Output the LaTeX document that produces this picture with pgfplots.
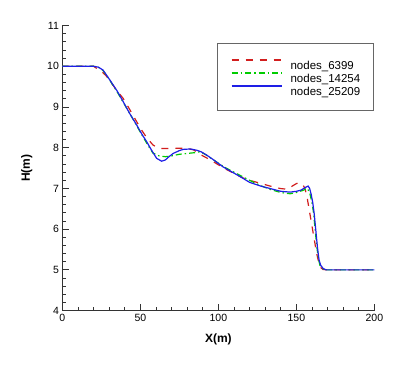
\documentclass[border=0pt]{standalone}
\usepackage{pgfplots}
\pgfplotsset{compat=1.18}
\usepackage{fontspec}
\setmainfont{Liberation Sans}
\definecolor{cred}{RGB}{210,30,30}
\definecolor{cgreen}{RGB}{0,205,0}
\definecolor{cblue}{RGB}{30,30,230}
\begin{document}
\begin{tikzpicture}
\useasboundingbox (-62.4pt,-57.4pt) rectangle (337.6pt,310.6pt);
\begin{axis}[
  at={(0,0)}, anchor=south west,
  scale only axis, width=312pt, height=285pt,
  xmin=0, xmax=200, ymin=4, ymax=11,
  axis x line*=bottom, axis y line*=left,
  axis line style={line width=1.3pt, black!80},
  xtick={0,50,...,200}, ytick={4,5,...,11},
  minor x tick num=4, minor y tick num=4,
  tick align=inside,
  major tick length=7pt, minor tick length=4pt,
  every tick/.style={line width=0.9pt, black!80},
  ticklabel style={font=\fontsize{10.5}{12}\selectfont},
  /pgf/number format/assume math mode=true,
  xlabel={\textbf{X(m)}}, ylabel={\textbf{H(m)}},
  label style={font=\fontsize{12}{14}\selectfont},
  xlabel style={at={(axis description cs:0.5,-0.0996)}, anchor=center},
  ylabel style={at={(axis description cs:-0.1144,0.5)}, anchor=center, rotate=0},
  legend style={at={(axis description cs:0.498,0.938)}, anchor=north west,
    draw=none, fill=none,
    inner xsep=13pt, inner ysep=13.85pt,
    font=\fontsize{11.5}{13}\selectfont, row sep=0pt,
    nodes={inner sep=0pt, text height=12.5pt, text depth=0.5pt}},
  legend cell align=left,
  legend image code/.code={\path[draw=none,fill=none] (0pt,0pt) -- (59pt,0pt);\draw[#1] (0pt,3.8pt) -- (50pt,3.8pt);},
]
\draw[black!60, line width=0.8pt, fill=white] (axis description cs:0.4978,0.9379) rectangle (axis description cs:0.9965,0.7039);
\addplot[color=cred, draw=cred, line width=1.2pt, dash pattern=on 7pt off 7pt] coordinates {
(0,10) (20,10) (22,9.95) (25,9.88) (28,9.77) (31.6,9.58) (35,9.4) (39,9.21)
(43,8.95) (47.6,8.64) (51,8.42) (54,8.25) (58,8.07) (61,8.0) (64,7.98)
(70,7.98) (75,7.99) (80,7.98) (84,7.95) (86,7.9) (90,7.8) (95,7.7) (100,7.58)
(105,7.47) (110,7.37) (115,7.27) (120,7.2) (126.7,7.13) (133,7.06) (139.5,7.0)
(144,6.98) (147,7.05) (150,7.12) (152,7.14) (154,7.1) (155.5,7.0) (157,6.75)
(159,6.3) (161,5.85) (163,5.4) (165,5.08) (167,5.01) (170,5.0) (200,5.0)};
\addlegendentry{nodes\_6399}
\addplot[color=cgreen, draw=cgreen, line width=1.2pt, dash pattern=on 6pt off 3pt on 1.5pt off 3pt] coordinates {
(0,10) (20,10) (23,9.98) (26,9.9) (30,9.68) (35,9.38) (40,9.05) (45,8.72)
(50,8.38) (55,8.05) (58,7.87) (62,7.8) (66,7.78) (70,7.8) (75,7.84) (80,7.86)
(85,7.88) (88,7.9) (91,7.85) (95,7.75) (100,7.62) (105,7.5) (110,7.4)
(115,7.3) (120,7.2) (127,7.07) (133,6.98) (140,6.9) (146,6.87) (150,6.9)
(154,6.95) (157,7.0) (158.5,6.9) (160,6.65) (161,6.4) (162,6.0) (163,5.6)
(164,5.3) (165,5.12) (166.5,5.04) (168,5.0) (200,5.0)};
\addlegendentry{nodes\_14254}
\addplot[color=cblue, draw=cblue, line width=1.2pt, solid] coordinates {
(0,10) (20,10) (23,9.98) (26,9.91) (28,9.8) (30.5,9.66) (35,9.4) (39,9.13)
(43,8.85) (47.6,8.56) (51,8.33) (54,8.15) (57,7.95) (60.4,7.74) (63.6,7.67)
(66,7.7) (68,7.77) (71,7.86) (75,7.93) (77.5,7.96) (82,7.97) (86,7.94)
(89,7.9) (92.5,7.82) (97,7.7) (103,7.53) (108,7.42) (114,7.29) (120,7.15)
(127,7.06) (133,7.0) (140,6.93) (146,6.91) (150,6.93) (153,6.96) (156,7.03)
(157.5,7.06) (158.5,7.0) (159.5,6.85) (160.5,6.65) (161.5,6.35) (162.5,5.95)
(163.5,5.55) (164.5,5.25) (165.5,5.12) (167,5.04) (169,5.0) (200,5.0)};
\addlegendentry{nodes\_25209}
\end{axis}
\end{tikzpicture}
\end{document}
